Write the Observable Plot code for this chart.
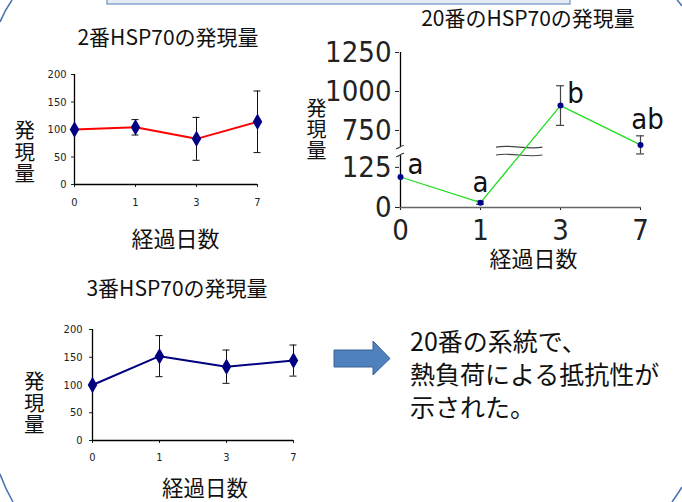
<!DOCTYPE html>
<html>
<head>
<meta charset="utf-8">
<script src="https://cdn.jsdelivr.net/npm/d3@7"></script>
<script src="https://cdn.jsdelivr.net/npm/@observablehq/plot@0.6"></script>
<style>
  html, body { margin: 0; padding: 0; background: #fff; }
  #page { position: relative; width: 682px; height: 502px; overflow: hidden; background: #fff;
          font-family: "Noto Sans CJK JP", "Noto Sans", sans-serif; color: #111; }
  .abs { position: absolute; white-space: nowrap; }
  .vert { position: absolute; writing-mode: vertical-rl; text-orientation: upright; white-space: nowrap; }
  .plotbox { position: absolute; left: 0; top: 0; }
</style>
</head>
<body>
<div id="page"></div>
<script>
// ---------------- data ----------------
const days = ["0", "1", "3", "7"];

// 2番 HSP70
const hsp2Mean = [100, 104, 83, 114];
const hsp2Sd   = [0, 14, 39, 56];

// 20番 HSP70
const hsp20Mean = [95, 15, 910, 658];
const hsp20Sd   = [0, 5, 127, 58];
const hsp20Letters = ["a", "a", "b", "ab"];

// 3番 HSP70
const hsp3Mean = [100, 152, 133, 144];
const hsp3Sd   = [0, 37, 30, 28];

const ticksSmall = [0, 50, 100, 150, 200];
const ticks20 = [0, 125, 750, 1000, 1250];

const titles = ["2番HSP70の発現量", "20番のHSP70の発現量", "3番HSP70の発現量"];
const yLabel = "発現量";
const xLabel = "経過日数";
const message = ["20番の系統で、", "熱負荷による抵抗性が", "示された。"];

// ---------------- helpers ----------------
const page = document.getElementById("page");
const rows = (mean, sd) => days.map((d, i) => ({day: d, mean: mean[i], sd: sd[i], lo: mean[i] - sd[i], hi: mean[i] + sd[i], i}));
const NARROW = '"Liberation Sans Narrow", "DejaVu Sans Condensed", "Arial Narrow", sans-serif';

function addText(txt, {cx, left, cy, size, lh, lines = 1, weight = 400}) {
  const el = document.createElement("div");
  el.className = "abs";
  const L = lh || size;
  el.style.fontSize = size + "px";
  el.style.lineHeight = L + "px";
  el.style.fontWeight = weight;
  el.style.top = (cy - (lines * L) / 2 - 0.07 * size) + "px";
  if (cx !== undefined) { el.style.left = cx + "px"; el.style.transform = "translateX(-50%)"; el.style.textAlign = "center"; }
  else el.style.left = left + "px";
  el.textContent = txt;
  page.appendChild(el);
  return el;
}
function addVertical(txt, cx, cy, size, step) {
  const el = document.createElement("div");
  el.className = "vert";
  const n = Array.from(txt).length;
  el.style.fontSize = size + "px";
  el.style.lineHeight = size + "px";
  el.style.letterSpacing = (step - size) + "px";
  el.style.left = (cx - size / 2) + "px";
  el.style.top = (cy - (n * step) / 2 + (step - size) / 2) + "px";
  el.textContent = txt;
  page.appendChild(el);
  return el;
}
function mount(svg) {
  const box = document.createElement("div");
  box.className = "plotbox";
  box.appendChild(svg);
  page.appendChild(box);
}
const cap = (data, key, stroke, w, half, fy = d => d[key]) =>
  Plot.ruleY(data, {x1: "day", x2: "day", y: fy, stroke, strokeWidth: w, insetLeft: -half, insetRight: -half});

// ---------------- chart: small (2番 / 3番) ----------------
function smallChart({mean, sd, color, W, H, mL, mR, mT, mB, padY, padX}) {
  const data = rows(mean, sd);
  const err = data.filter(d => d.sd > 0);
  return Plot.plot({
    width: W, height: H,
    marginLeft: mL, marginRight: mR, marginTop: mT, marginBottom: mB,
    style: {background: "transparent", overflow: "visible", fontFamily: NARROW, fontSize: "11px", color: "#222"},
    x: {type: "point", domain: days, padding: 0, tickSize: 3, tickPadding: padX, label: null},
    y: {domain: [0, 200], ticks: ticksSmall, tickSize: 3, tickPadding: padY, label: null},
    marks: [
      Plot.ruleY([0], {stroke: "#000", strokeWidth: 1.3}),
      Plot.ruleX([days[0]], {stroke: "#000", strokeWidth: 1.3}),
      Plot.ruleX(err, {x: "day", y1: "lo", y2: "hi", stroke: "#111", strokeWidth: 1}),
      cap(err, "hi", "#111", 1, 3.5),
      cap(err, "lo", "#111", 1, 3.5),
      Plot.line(data, {x: "day", y: "mean", stroke: color, strokeWidth: 2}),
      Plot.dot(data, {x: "day", y: "mean", symbol: "diamond", r: 5, fill: "#000080", stroke: "none"})
    ]
  });
}

// chart 1 : 2番
mount(smallChart({mean: hsp2Mean, sd: hsp2Sd, color: "#ff0000", W: 300, H: 260, mL: 74, mR: 43, mT: 74, mB: 76, padY: 5, padX: 11}));
// chart 3 : 3番
mount(smallChart({mean: hsp3Mean, sd: hsp3Sd, color: "#000080", W: 320, H: 502, mL: 92, mR: 27, mT: 329, mB: 62, padY: 7, padX: 10}));

// ---------------- chart 2 : 20番 (broken axis) ----------------
// broken axis: lower part 0..LOW_TOP, upper part HIGH_START..1250, compressed via a piecewise d3 scale
const LOW_TOP = 162, HIGH_BOTTOM = 641, HIGH_START = 590, TOP = 1250;
const brk = d3.scaleLinear().domain([0, LOW_TOP, HIGH_START, TOP]).range([0, 52, 52, 155]);
{
  const data = rows(hsp20Mean, hsp20Sd);
  const err = data.filter(d => d.sd > 0);
  const breaks = (index, scales) => {
    const x = scales.x, y = scales.y;
    const ns = "http://www.w3.org/2000/svg";
    const g = document.createElementNS(ns, "g");
    const x0 = x(days[0]);
    const yA = y(brk(HIGH_BOTTOM)), yB = y(brk(LOW_TOP));
    const paths = [];
    for (const yy of [yA, yB]) paths.push(`M${x0 - 4},${yy + 1.5} C${x0 - 1},${yy + 2} ${x0 + 1},${yy - 2} ${x0 + 4},${yy - 1.5}`);
    const x1 = x(days[1]), x3 = x(days[2]);
    const xa = x1 + 0.2 * (x3 - x1), xb = x1 + 0.78 * (x3 - x1), w = xb - xa;
    for (const yy of [yA, yB]) paths.push(`M${xa},${yy} C${xa + w / 3},${yy - 3} ${xa + 2 * w / 3},${yy + 3} ${xb},${yy}`);
    for (const d of paths) {
      const p = document.createElementNS(ns, "path");
      p.setAttribute("d", d); p.setAttribute("fill", "none");
      p.setAttribute("stroke", "#444"); p.setAttribute("stroke-width", "1.2");
      g.appendChild(p);
    }
    return g;
  };
  const letterOffsets = [[15, -12.5], [0, -20], [15, -12], [7, -25]];
  const tickLabel = new Map(ticks20.map(t => [brk(t), String(t)]));
  const svg = Plot.plot({
    width: 682, height: 280,
    marginLeft: 399, marginRight: 41, marginTop: 52, marginBottom: 73,
    style: {background: "transparent", overflow: "visible", fontFamily: NARROW, fontSize: "29px", color: "#222"},
    x: {type: "point", domain: days, padding: 0, tickSize: 3, tickPadding: 9, label: null},
    y: {domain: [0, brk(TOP)], ticks: ticks20.map(brk), tickFormat: v => tickLabel.get(v) ?? "", tickSize: 4, tickPadding: 4, label: null},
    marks: [
      Plot.ruleY([0], {stroke: "#666", strokeWidth: 1.5}),
      Plot.ruleX([days[0]], {y1: 0, y2: brk(LOW_TOP), stroke: "#000", strokeWidth: 1.3}),
      Plot.ruleX([days[0]], {y1: brk(HIGH_BOTTOM), y2: brk(TOP), stroke: "#000", strokeWidth: 1.3}),
      breaks,
      Plot.ruleX(err, {x: "day", y1: d => brk(d.lo), y2: d => brk(d.hi), stroke: "#444", strokeWidth: 1.2}),
      cap(err, "hi", "#444", 1.2, 4, d => brk(d.hi)),
      cap(err, "lo", "#444", 1.2, 4, d => brk(d.lo)),
      Plot.line(data, {x: "day", y: d => brk(d.mean), stroke: "#22dd22", strokeWidth: 1.3}),
      Plot.dot(data, {x: "day", y: d => brk(d.mean), r: 3, fill: "#00008b", stroke: "none"}),
      ...hsp20Letters.map((t, i) => Plot.text([data[i]], {x: "day", y: d => brk(d.mean), text: () => t, fontSize: 29, fill: "#111",
        dx: letterOffsets[i][0], dy: letterOffsets[i][1]}))
    ]
  });
  mount(svg);
}

// ---------------- texts ----------------
addText(titles[0], {cx: 168, cy: 37.5, size: 21});
addText(titles[1], {cx: 528, cy: 19, size: 21});
addText(titles[2], {cx: 177, cy: 288.5, size: 21});

addVertical(yLabel, 24.5, 151.5, 20.5, 21.5);
addVertical(yLabel, 316, 128.5, 20, 21);
addVertical(yLabel, 34, 402.5, 20.5, 21.5);

addText(xLabel, {cx: 175.5, cy: 239, size: 22});
addText(xLabel, {cx: 533.5, cy: 258.5, size: 22, lh: 12});
addText(xLabel, {cx: 205, cy: 489, size: 21.5, lh: 20});

message.forEach((m, i) => addText(m, {left: 410, cy: 342.5 + i * 33, size: 25}));

// ---------------- decorations (arrow, header box, frame arcs) ----------------
{
  const ns = "http://www.w3.org/2000/svg";
  const svg = document.createElementNS(ns, "svg");
  svg.setAttribute("width", 682); svg.setAttribute("height", 502);
  svg.style.position = "absolute"; svg.style.left = "0"; svg.style.top = "0"; svg.style.pointerEvents = "none";
  svg.innerHTML = `
    <rect x="107" y="-3" width="463" height="7" fill="#e6ecf6" stroke="#6f8fc4" stroke-width="1.2"/>
    <polygon points="334,350 373,350 373,341 390,358.5 373,375 373,367 334,367" fill="#4f81bd" stroke="#3a629a" stroke-width="1"/>
    <path d="M0,22 Q5,10 12,0" fill="none" stroke="#4a72b0" stroke-width="1.5"/>
    <path d="M0,474 Q5,488 13,502" fill="none" stroke="#4a72b0" stroke-width="1.5"/>
    <path d="M672,502 Q677,495 682,487" fill="none" stroke="#4a72b0" stroke-width="1.5"/>
    <path d="M677,0 Q680,3 682,6" fill="none" stroke="#4a72b0" stroke-width="1.5"/>`;
  page.appendChild(svg);
}
</script>
</body>
</html>
